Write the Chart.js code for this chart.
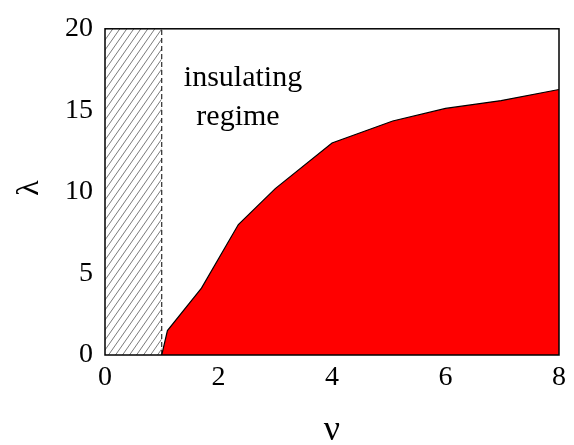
<!DOCTYPE html>
<html>
<head>
<meta charset="utf-8">
<script src="https://cdn.jsdelivr.net/npm/chart.js@4.4.1/dist/chart.umd.min.js"></script>
<style>
  html, body { margin: 0; padding: 0; background: #fff; }
  #wrap { width: 574px; height: 445px; position: relative; }
</style>
</head>
<body>
<div id="wrap"><canvas id="c" width="574" height="445"></canvas></div>
<script>
// Phase boundary (nu, lambda)
const nuValues = [1.0, 1.1, 1.7, 2.35, 3.0, 4.0, 5.07, 6.0, 6.98, 8.0];
const lambdaValues = [0, 1.5, 4.1, 8.0, 10.2, 13.0, 14.35, 15.12, 15.6, 16.28];
// Hatched (excluded) region nu < 1
const hatchNu = [0, 1];
const hatchTop = [20, 20];
// Dashed boundary at nu = 1
const dashNu = [1, 1];
const dashLambda = [0, 20];
// Axis ticks
const xTicks = [0, 2, 4, 6, 8];
const yTicks = [0, 5, 10, 15, 20];
const annotationLines = ["insulating", "regime"];
const xTitle = "ν";
const yTitle = "λ";

function makeHatch() {
  const w = 7, h = 10;
  const p = document.createElement('canvas');
  p.width = w; p.height = h;
  const g = p.getContext('2d');
  g.strokeStyle = '#7a7a7a';
  g.lineWidth = 1;
  g.beginPath();
  g.moveTo(0, h); g.lineTo(w, 0);
  g.moveTo(-w, h); g.lineTo(0, 0);
  g.moveTo(w, h); g.lineTo(2 * w, 0);
  g.stroke();
  return document.getElementById('c').getContext('2d').createPattern(p, 'repeat');
}

const serif = "'Liberation Serif', 'DejaVu Serif', serif";

const textPlugin = {
  id: 'texts',
  afterDraw(chart) {
    const ctx = chart.ctx;
    ctx.save();
    ctx.fillStyle = '#000';
    ctx.textAlign = 'center';
    ctx.textBaseline = 'alphabetic';
    ctx.font = "30px " + serif;
    ctx.fillText(annotationLines[0], 243, 86);
    ctx.fillText(annotationLines[1], 238, 125);
    // axis titles
    ctx.textBaseline = 'middle';
    ctx.font = "36px " + serif;
    ctx.fillText(xTitle, 332, 431);
    ctx.save();
    ctx.translate(30, 188);
    ctx.rotate(-Math.PI / 2);
    ctx.font = "32px " + serif;
    ctx.fillText(yTitle, 0, 0);
    ctx.restore();
    // frame
    const a = chart.chartArea;
    ctx.strokeStyle = '#000';
    ctx.lineWidth = 1.5;
    ctx.strokeRect(a.left, a.top, a.right - a.left, a.bottom - a.top);
    ctx.restore();
  }
};

const ctx = document.getElementById('c').getContext('2d');
const chart = new Chart(ctx, {
  type: 'line',
  data: {
    datasets: [
      {
        data: hatchNu.map((x, i) => ({x, y: hatchTop[i]})),
        fill: 'origin',
        backgroundColor: makeHatch(),
        borderWidth: 0,
        pointRadius: 0,
        order: 3
      },
      {
        data: dashNu.map((x, i) => ({x, y: dashLambda[i]})),
        fill: false,
        borderColor: '#000',
        borderWidth: 1,
        borderDash: [5, 3],
        pointRadius: 0,
        order: 2
      },
      {
        data: nuValues.map((x, i) => ({x, y: lambdaValues[i]})),
        fill: 'origin',
        backgroundColor: '#ff0000',
        borderColor: '#000',
        borderWidth: 1.2,
        pointRadius: 0,
        tension: 0,
        order: 1
      }
    ]
  },
  options: {
    responsive: false,
    animation: false,
    devicePixelRatio: 1,
    layout: { padding: { left: 0, right: 15, top: 18, bottom: 0 } },
    plugins: { legend: { display: false }, tooltip: { enabled: false } },
    scales: {
      x: {
        type: 'linear', min: 0, max: 8,
        afterFit(s) { s.height = 90; },
        afterBuildTicks(s) { s.ticks = xTicks.map(v => ({value: v})); },
        grid: { display: false, drawTicks: false },
        border: { display: false },
        ticks: { color: '#000', font: { family: serif, size: 28 }, padding: 6 }
      },
      y: {
        type: 'linear', min: 0, max: 20,
        afterFit(s) { s.width = 105; },
        afterBuildTicks(s) { s.ticks = yTicks.map(v => ({value: v})); },
        grid: { display: false, drawTicks: false },
        border: { display: false },
        ticks: { color: '#000', font: { family: serif, size: 28 }, padding: 12 }
      }
    }
  },
  plugins: [textPlugin]
});
</script>
</body>
</html>
